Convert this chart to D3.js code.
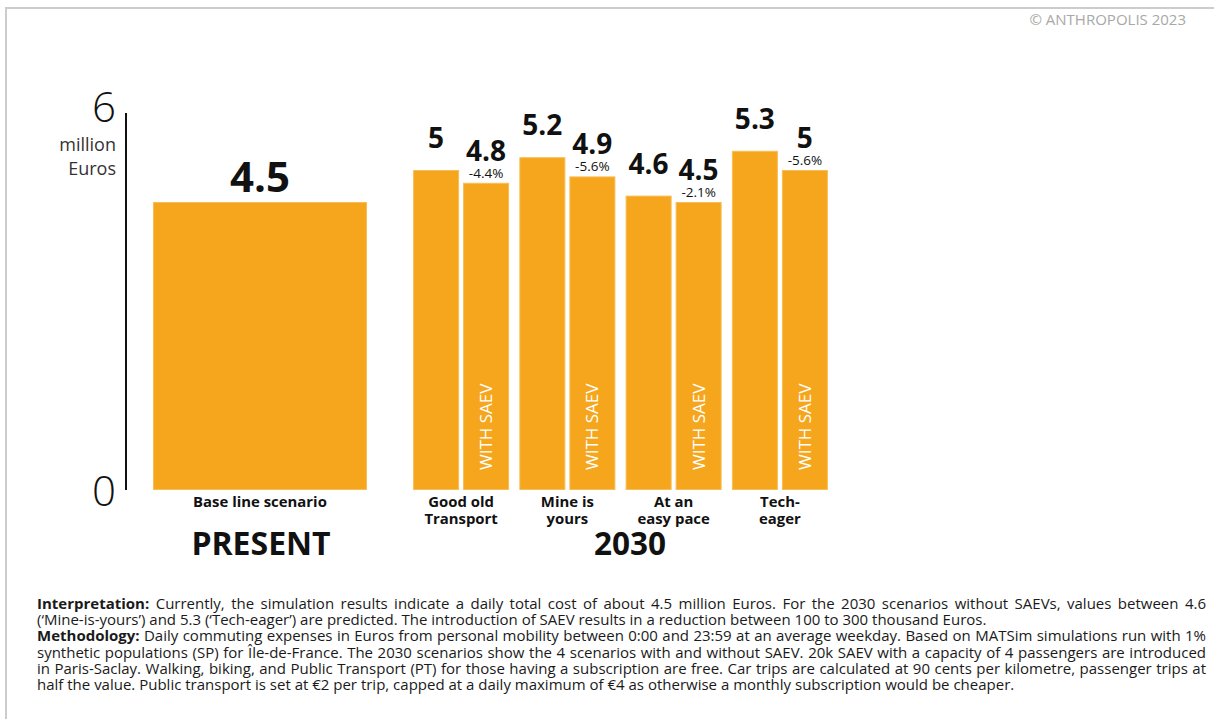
<!DOCTYPE html>
<html>
<head>
<meta charset="utf-8">
<script src="https://cdn.jsdelivr.net/npm/d3@7"></script>
<style>
  html, body { margin: 0; padding: 0; background: #fff; }
  svg { display: block; font-family: "Open Sans", "Noto Sans", sans-serif; }
</style>
</head>
<body>
<svg id="chart" width="1214" height="719"></svg>
<script>
// ---- Data ----
const baselineCategory = ["Base line scenario"];
const baselineValues = [4.5];
const baselineLabels = ["4.5"];

const scenarioCategories = ["Good old Transport", "Mine is yours", "At an easy pace", "Tech-eager"];
const scenarioLabelLines = [["Good old", "Transport"], ["Mine is", "yours"], ["At an", "easy pace"], ["Tech-", "eager"]];
const withoutSaevValues = [5.0, 5.2, 4.6, 5.3];
const withSaevValues = [4.8, 4.9, 4.5, 5.0];
const withoutSaevLabels = ["5", "5.2", "4.6", "5.3"];
const withSaevLabels = ["4.8", "4.9", "4.5", "5"];
const withSaevChange = ["-4.4%", "-5.6%", "-2.1%", "-5.6%"];
const variants = ["without", "with"];
const yTicks = [0, 6];

const interpretationText = [
  ["Interpretation:", " Currently, the simulation results indicate a daily total cost of about 4.5 million Euros. For the 2030 scenarios without SAEVs, values between 4.6", true],
  ["", "(\u2018Mine-is-yours\u2019) and 5.3 (\u2018Tech-eager\u2019) are predicted. The introduction of SAEV results in a reduction between 100 to 300 thousand Euros.", false],
  ["Methodology:", " Daily commuting expenses in Euros from personal mobility between 0:00 and 23:59 at an average weekday. Based on MATSim simulations run with 1%", true],
  ["", "synthetic populations (SP) for \u00CEle-de-France. The 2030 scenarios show the 4 scenarios with and without SAEV. 20k SAEV with a capacity of 4 passengers are introduced", true],
  ["", "in Paris-Saclay. Walking, biking, and Public Transport (PT) for those having a subscription are free. Car trips are calculated at 90 cents per kilometre, passenger trips at", true],
  ["", "half the value. Public transport is set at \u20AC2 per trip, capped at a daily maximum of \u20AC4 as otherwise a monthly subscription would be cheaper.", false]
];

// ---- Setup ----
const svg = d3.select("#chart");
const BAR = "#F5A61C";
const BAR_EDGE = "#F8BD55";

// frame
svg.append("path")
  .attr("d", "M6,719 L6,8 L1214,8")
  .attr("fill", "none").attr("stroke", "#cccccc").attr("stroke-width", 2);

svg.append("text")
  .attr("x", 1186).attr("y", 25)
  .attr("text-anchor", "end")
  .attr("font-size", 15).attr("fill", "#a8a8a8")
  .text("\u00A9 ANTHROPOLIS 2023");

// scales
const y = d3.scaleLinear().domain([0, 6]).range([490, 106]);
const xBase = d3.scaleBand().domain(baselineCategory).range([153, 367]);
const xGroup = d3.scaleBand().domain(scenarioCategories).range([408, 833])
  .paddingInner(0.0965).paddingOuter(0.048);
const xInner = d3.scaleBand().domain(variants).range([0, xGroup.bandwidth()]).paddingInner(0.08);

// y axis
const yAxis = d3.axisLeft(y).tickValues(yTicks).tickSize(0).tickPadding(10).tickFormat(d3.format("d"));
const gAxis = svg.append("g").attr("transform", "translate(126,0)").call(yAxis);
gAxis.select(".domain").remove();
gAxis.selectAll(".tick text")
  .attr("font-size", 42).attr("font-weight", 300).attr("fill", "#111")
  .attr("font-family", "'Open Sans', sans-serif").attr("dy", "0.36em");
svg.append("line")
  .attr("x1", 126).attr("x2", 126).attr("y1", y(6) + 7).attr("y2", y(0))
  .attr("stroke", "#111").attr("stroke-width", 2);
svg.append("text").attr("x", 116).attr("y", 151).attr("text-anchor", "end")
  .attr("font-size", 18).attr("font-weight", 400).attr("fill", "#333").text("million");
svg.append("text").attr("x", 116).attr("y", 175).attr("text-anchor", "end")
  .attr("font-size", 18).attr("font-weight", 400).attr("fill", "#333").text("Euros");

// baseline bar
svg.selectAll(".base-bar").data(baselineValues).join("rect")
  .attr("class", "base-bar")
  .attr("x", (d, i) => xBase(baselineCategory[i]) + 0.5)
  .attr("y", d => y(d) + 0.5)
  .attr("width", xBase.bandwidth() - 1)
  .attr("height", d => y(0) - y(d) - 1)
  .attr("fill", BAR).attr("stroke", BAR_EDGE).attr("stroke-width", 1);
svg.selectAll(".base-label").data(baselineValues).join("text")
  .attr("x", (d, i) => xBase(baselineCategory[i]) + xBase.bandwidth() / 2)
  .attr("y", d => y(d) - 10)
  .attr("text-anchor", "middle").attr("font-size", 42).attr("font-weight", 700).attr("fill", "#111")
  .text((d, i) => baselineLabels[i]);
svg.selectAll(".base-cat").data(baselineCategory).join("text")
  .attr("x", d => xBase(d) + xBase.bandwidth() / 2)
  .attr("y", 507)
  .attr("text-anchor", "middle").attr("font-size", 14.9).attr("font-weight", 700).attr("fill", "#111")
  .text(d => d);

// 2030 groups
const rows = scenarioCategories.map((c, i) => ({
  cat: c, i,
  bars: [
    { v: "without", value: withoutSaevValues[i], label: withoutSaevLabels[i] },
    { v: "with", value: withSaevValues[i], label: withSaevLabels[i], change: withSaevChange[i] }
  ]
}));

const groups = svg.selectAll(".grp").data(rows).join("g")
  .attr("class", "grp")
  .attr("transform", d => `translate(${xGroup(d.cat)},0)`);

groups.selectAll("rect").data(d => d.bars).join("rect")
  .attr("x", d => xInner(d.v) + 0.5)
  .attr("y", d => y(d.value) + 0.5)
  .attr("width", xInner.bandwidth() - 1)
  .attr("height", d => y(0) - y(d.value) - 1)
  .attr("fill", BAR).attr("stroke", BAR_EDGE).attr("stroke-width", 1);

groups.selectAll(".val").data(d => d.bars).join("text")
  .attr("class", "val")
  .attr("x", d => xInner(d.v) + xInner.bandwidth() / 2)
  .attr("y", d => y(d.value) - 22)
  .attr("text-anchor", "middle").attr("font-size", 28).attr("font-weight", 700).attr("fill", "#111")
  .text(d => d.label);

groups.selectAll(".chg").data(d => d.bars.filter(b => b.change)).join("text")
  .attr("class", "chg")
  .attr("x", d => xInner(d.v) + xInner.bandwidth() / 2)
  .attr("y", d => y(d.value) - 5)
  .attr("text-anchor", "middle").attr("font-size", 13.5).attr("fill", "#111")
  .text(d => d.change);

groups.selectAll(".saev").data(d => d.bars.filter(b => b.v === "with")).join("text")
  .attr("class", "saev")
  .attr("transform", d => `translate(${xInner(d.v) + xInner.bandwidth() / 2 + 6},${y(0) - 20}) rotate(-90)`)
  .attr("font-size", 17).attr("fill", "#fff")
  .text("WITH SAEV");

groups.each(function (d) {
  const g = d3.select(this);
  const t = g.append("text")
    .attr("x", xGroup.bandwidth() / 2).attr("y", 507)
    .attr("text-anchor", "middle").attr("font-size", 14.9).attr("font-weight", 700).attr("fill", "#111");
  scenarioLabelLines[d.i].forEach((line, k) => {
    t.append("tspan").attr("x", xGroup.bandwidth() / 2).attr("dy", k === 0 ? 0 : 17).text(line);
  });
});

// period labels
svg.append("text").attr("x", 261).attr("y", 555).attr("text-anchor", "middle")
  .attr("font-size", 32).attr("font-weight", 700).attr("fill", "#111").text("PRESENT");
svg.append("text").attr("x", 630).attr("y", 555).attr("text-anchor", "middle")
  .attr("font-size", 31.5).attr("font-weight", 700).attr("fill", "#111").text("2030");

// footnote
const noteX = 37, noteRight = 1206, noteY0 = 609, noteLH = 16.2;
interpretationText.forEach((row, k) => {
  const t = svg.append("text")
    .attr("x", noteX).attr("y", noteY0 + k * noteLH)
    .attr("font-size", 15).attr("fill", "#1a1a1a")
    .attr("xml:space", "preserve");
  if (row[0]) t.append("tspan").attr("font-weight", 700).text(row[0]);
  t.append("tspan").text(row[1]);
  if (row[2]) {
    const w = t.node().getComputedTextLength();
    const full = row[0] + row[1];
    const spaces = (full.match(/ /g) || []).length;
    if (spaces > 0) t.attr("word-spacing", Math.max(0, (noteRight - noteX - w) / spaces));
  }
});
</script>
</body>
</html>
